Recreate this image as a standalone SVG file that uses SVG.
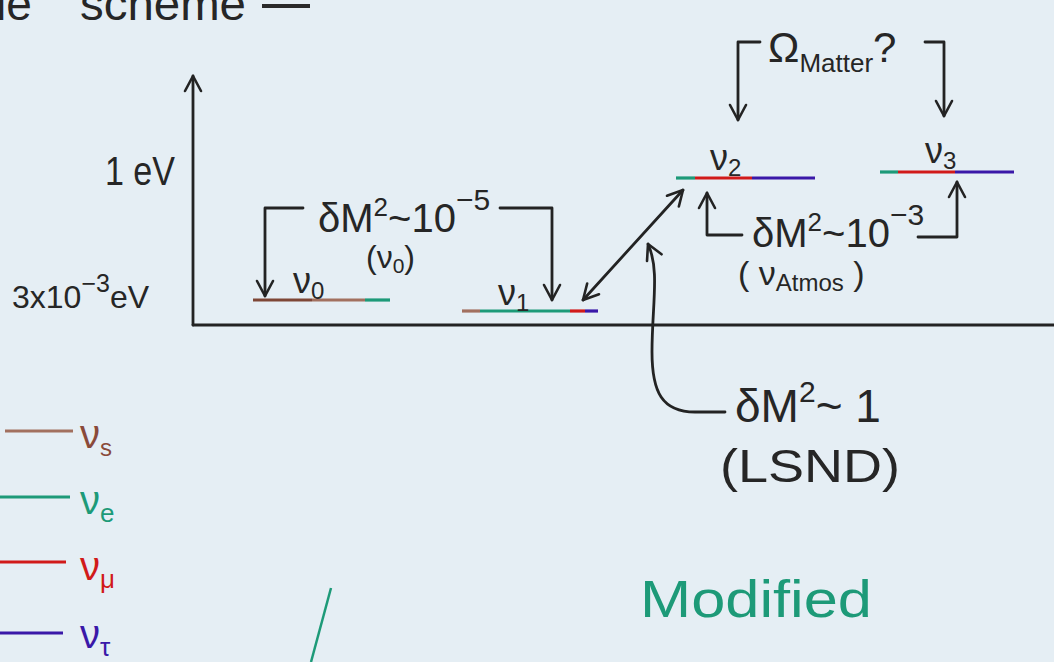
<svg xmlns="http://www.w3.org/2000/svg" width="1054" height="662" viewBox="0 0 1054 662">
<style>
.ink{fill:none;stroke:#232323;stroke-width:2.8;stroke-linecap:round;stroke-linejoin:round}
.t{font-family:"Liberation Sans","DejaVu Sans",sans-serif;fill:#262626}
.lv{fill:none;stroke-width:3.2}
.br{stroke:#7e4636}.br2{stroke:#a2705f}.gr{stroke:#1d9a78}.rd{stroke:#d11a1a}.bl{stroke:#3a18a8}
.tbr{fill:#8a4a3a}.tgr{fill:#1d9a78}.trd{fill:#d11a1a}.tbl{fill:#3a18a8}
</style>
<defs>
<marker id="ah" viewBox="0 0 20 20" refX="18" refY="10" markerWidth="20" markerHeight="20" orient="auto-start-reverse" markerUnits="userSpaceOnUse">
<path d="M3,2 L18,10 L3,18" fill="none" stroke="#232323" stroke-width="2.6" stroke-linecap="round" stroke-linejoin="round"/>
</marker>
</defs>
<rect width="1054" height="662" fill="#e5eef4"/>

<g id="title">
<text class="t" x="-4" y="20" font-size="46">le</text>
<text class="t" x="80" y="20" font-size="46" textLength="166" lengthAdjust="spacingAndGlyphs">scheme</text>
<line x1="262" y1="6" x2="310" y2="6" stroke="#2a2a2a" stroke-width="4"/>
</g>

<g id="connectors">
<path class="ink" d="M193,325 V76" marker-end="url(#ah)"/>
<path class="ink" d="M193,325 H1054" stroke-width="3.6"/>
<path class="ink" d="M303,208 H265 V296" marker-end="url(#ah)"/>
<path class="ink" d="M500,208 H552 V300" marker-end="url(#ah)"/>
<path class="ink" d="M760,42 H738 V120" marker-end="url(#ah)"/>
<path class="ink" d="M925,42 H944 V116" marker-end="url(#ah)"/>
<path class="ink" d="M742,235 H707 V193" marker-end="url(#ah)"/>
<path class="ink" d="M918,237 H957 V182" marker-end="url(#ah)"/>
<path class="ink" d="M583,300 L683,190" stroke-width="2.2" marker-start="url(#ah)" marker-end="url(#ah)"/>
<path class="ink" d="M725,412 H695 C662,412 652,392 652,352 C652,305 660,270 648,244" marker-end="url(#ah)"/>
</g>

<g id="axis-labels">
<text class="t" x="105" y="185" font-size="40" textLength="70" lengthAdjust="spacingAndGlyphs">1 eV</text>
<text class="t" x="12" y="308" font-size="32">3x10<tspan dy="-16" font-size="25">−3</tspan><tspan dy="16">eV</tspan></text>
</g>

<g id="nu0">
<line class="lv br" x1="253" y1="300" x2="312" y2="300"/>
<line class="lv br2" x1="312" y1="300" x2="365" y2="300"/>
<line class="lv gr" x1="365" y1="300" x2="390" y2="300"/>
<text class="t" x="293" y="293" font-size="36">ν<tspan dy="6" font-size="24">0</tspan></text>
</g>

<g id="nu1">
<line class="lv br2" x1="462" y1="311" x2="480" y2="311"/>
<line class="lv gr" x1="480" y1="311" x2="570" y2="311"/>
<line class="lv rd" x1="570" y1="311" x2="585" y2="311"/>
<line class="lv bl" x1="585" y1="311" x2="598" y2="311"/>
<text class="t" x="498" y="305" font-size="36">ν<tspan dy="6" font-size="24">1</tspan></text>
</g>

<g id="nu2">
<line class="lv gr" x1="676" y1="178" x2="695" y2="178"/>
<line class="lv rd" x1="695" y1="178" x2="752" y2="178"/>
<line class="lv bl" x1="752" y1="178" x2="815" y2="178"/>
<text class="t" x="710" y="170" font-size="36">ν<tspan dy="6" font-size="24">2</tspan></text>
</g>

<g id="nu3">
<line class="lv gr" x1="880" y1="172" x2="898" y2="172"/>
<line class="lv rd" x1="898" y1="172" x2="955" y2="172"/>
<line class="lv bl" x1="955" y1="172" x2="1014" y2="172"/>
<text class="t" x="925" y="163" font-size="36">ν<tspan dy="6" font-size="24">3</tspan></text>
</g>

<g id="dm2-solar">
<text class="t" x="318" y="232" font-size="40">δM<tspan dy="-16" font-size="26">2</tspan><tspan dy="16">~10</tspan><tspan dy="-22" font-size="30">−5</tspan></text>
<text class="t" x="366" y="268" font-size="32">(ν<tspan dy="5" font-size="21">0</tspan><tspan dy="-5">)</tspan></text>
</g>

<g id="omega-matter">
<text class="t" x="768" y="62" font-size="42">Ω<tspan dy="10" font-size="26">Matter</tspan><tspan dy="-10">?</tspan></text>
</g>

<g id="dm2-atmos">
<text class="t" x="752" y="247" font-size="40">δM<tspan dy="-16" font-size="26">2</tspan><tspan dy="16">~10</tspan><tspan dy="-22" font-size="30">−3</tspan></text>
<text class="t" x="738" y="285" font-size="34">( ν<tspan dy="6" font-size="24">Atmos</tspan><tspan dy="-6"> )</tspan></text>
</g>

<g id="dm2-lsnd">
<text class="t" x="735" y="422" font-size="46">δM<tspan dy="-20" font-size="30">2</tspan><tspan dy="20">~ 1</tspan></text>
<text class="t" x="720" y="482" font-size="46" textLength="180" lengthAdjust="spacingAndGlyphs">(LSND)</text>
</g>

<g id="legend">
<line class="lv br2" x1="5" y1="431" x2="73" y2="431" stroke-width="3.5"/>
<text class="t tbr" x="80" y="448" font-size="40">ν<tspan dy="8" font-size="24">s</tspan></text>
<line class="lv gr" x1="0" y1="497" x2="70" y2="497" stroke-width="3.5"/>
<text class="t tgr" x="80" y="514" font-size="40">ν<tspan dy="8" font-size="26">e</tspan></text>
<line class="lv rd" x1="0" y1="562" x2="66" y2="562" stroke-width="3.5"/>
<text class="t trd" x="80" y="580" font-size="40">ν<tspan dy="8" font-size="26">μ</tspan></text>
<line class="lv bl" x1="0" y1="633" x2="63" y2="633" stroke-width="3.5"/>
<text class="t tbl" x="80" y="648" font-size="40">ν<tspan dy="8" font-size="26">τ</tspan></text>
</g>

<g id="modified">
<line x1="331" y1="588" x2="311" y2="662" stroke="#1d9a78" stroke-width="2.5"/>
<text class="t tgr" x="640" y="617" font-size="52" textLength="232" lengthAdjust="spacingAndGlyphs">Modified</text>
</g>
</svg>
